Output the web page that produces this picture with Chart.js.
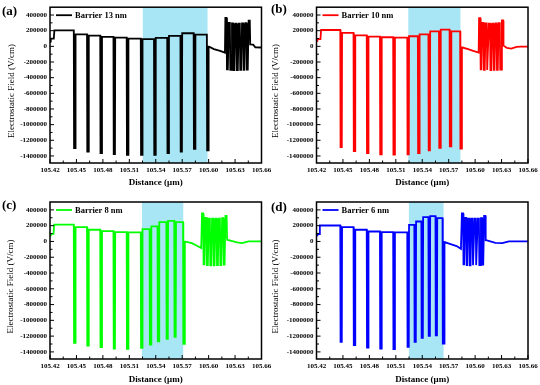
<!DOCTYPE html>
<html>
<head>
<meta charset="utf-8">
<script src="https://cdn.jsdelivr.net/npm/chart.js@4.4.1/dist/chart.umd.min.js"></script>
<style>
  body { margin: 0; background: #fff; }
  #fig { position: relative; width: 540px; height: 385px; overflow: hidden; background: #fff; }
  #fig canvas { position: absolute; }
  .tag { position: absolute; font: bold 13px "Liberation Serif", serif; line-height: 13px; }
</style>
</head>
<body>
<div id="fig">
  <canvas id="chartA" width="275" height="190" style="left:0;top:0"></canvas>
  <canvas id="chartB" width="270" height="190" style="left:270px;top:0"></canvas>
  <canvas id="chartC" width="275" height="195" style="left:0;top:190px"></canvas>
  <canvas id="chartD" width="270" height="195" style="left:270px;top:190px"></canvas>
  <div class="tag" style="left:2px;top:4px">(a)</div>
  <div class="tag" style="left:271px;top:2px">(b)</div>
  <div class="tag" style="left:2px;top:198px">(c)</div>
  <div class="tag" style="left:271px;top:200px">(d)</div>
</div>
<script>
// axis ticks and titles
const xTicks = [105.42, 105.45, 105.48, 105.51, 105.54, 105.57, 105.60, 105.63, 105.66];
const yTicks = [400000, 200000, 0, -200000, -400000, -600000, -800000, -1000000, -1200000, -1400000];
const xTitle = 'Distance (\u03bcm)';
const yTitle = 'Electrostatic Field (V/cm)';

// (a) Barrier 13 nm
const headA = [[105.420, 62000], [105.4207, 72000], [105.4210, 98000], [105.4243, 98000], [105.4250, 205000]];
const wellXA = [105.448, 105.463, 105.478, 105.493, 105.508, 105.524, 105.539, 105.554, 105.569, 105.584, 105.599];
const wellMinA = [-1300000, -1345000, -1365000, -1375000, -1385000, -1385000, -1385000, -1365000, -1345000, -1310000, -1330000];
const levelA = [205000, 154000, 137000, 120000, 112000, 99000, 91000, 108000, 133000, 167000, 150000];
const tailA = [[105.6005, -5000], [105.6060, -35000], [105.6130, -58000], [105.6185, -80000]];
const peakXA = [105.6190, 105.6228, 105.6265, 105.6303, 105.6341, 105.6379, 105.6416, 105.6454];
const peakA = [362000, 300000, 292000, 290000, 290000, 292000, 295000, 328000];
const troughA = [-295000, -300000, -302000, -302000, -300000, -300000, -298000];
const endA = [[105.6472, 25000], [105.6505, 22000], [105.6530, -12000], [105.6600, -15000]];
const shadeA = [105.525, 105.599];

// (b) Barrier 10 nm
const headB = [[105.420, 64000], [105.4207, 70000], [105.4210, 92000], [105.4245, 92000], [105.4252, 209000]];
const wellXB = [105.448, 105.463, 105.478, 105.493, 105.508, 105.524, 105.536, 105.548, 105.560, 105.572, 105.584];
const wellMinB = [-1286000, -1337000, -1362000, -1379000, -1383000, -1379000, -1362000, -1328000, -1298000, -1277000, -1307000];
const levelB = [209000, 171000, 141000, 125000, 116000, 112000, 129000, 154000, 192000, 213000, 192000];
const tailB = [[105.5856, -15000], [105.5920, -36000], [105.5978, -58000], [105.6040, -80000]];
const peakXB = [105.6045, 105.6082, 105.6119, 105.6156, 105.6193, 105.6230, 105.6267, 105.6304];
const peakB = [360000, 300000, 292000, 290000, 290000, 292000, 295000, 330000];
const troughB = [-295000, -300000, -302000, -302000, -300000, -300000, -298000];
const endB = [[105.6322, 10000], [105.6360, -20000], [105.6410, -28000], [105.6470, -8000], [105.6520, -3000], [105.6600, -3000]];
const shadeB = [105.524, 105.5836];

// (c) Barrier 8 nm
const headC = [[105.420, 78000], [105.4207, 84000], [105.4210, 95000], [105.4240, 95000], [105.4247, 212000]];
const wellXC = [105.448, 105.463, 105.478, 105.493, 105.508, 105.524, 105.534, 105.543, 105.553, 105.562, 105.572];
const wellMinC = [-1286000, -1319000, -1340000, -1357000, -1361000, -1349000, -1307000, -1265000, -1235000, -1210000, -1298000];
const levelC = [212000, 181000, 148000, 131000, 118000, 114000, 156000, 190000, 244000, 261000, 244000];
const tailC = [[105.5735, -2000], [105.5810, -21000], [105.5867, -55000], [105.5916, -84000]];
const peakXC = [105.5925, 105.5963, 105.6001, 105.6039, 105.6077, 105.6115, 105.6153, 105.6191];
const peakC = [355000, 300000, 290000, 288000, 288000, 290000, 295000, 325000];
const troughC = [-290000, -300000, -302000, -302000, -300000, -300000, -295000];
const endC = [[105.6210, 21000], [105.6226, 18000], [105.6322, -13000], [105.6378, -21000], [105.6453, 0], [105.6600, 0]];
const shadeC = [105.5242, 105.5715];

// (d) Barrier 6 nm
const headD = [[105.420, 72000], [105.4207, 78000], [105.4210, 92000], [105.4232, 92000], [105.4238, 202000]];
const wellXD = [105.448, 105.463, 105.478, 105.493, 105.508, 105.524, 105.532, 105.540, 105.548, 105.556, 105.564];
const wellMinD = [-1273000, -1315000, -1345000, -1357000, -1366000, -1336000, -1273000, -1222000, -1197000, -1189000, -1294000];
const levelD = [202000, 181000, 148000, 126000, 118000, 114000, 211000, 253000, 308000, 320000, 295000];
const tailD = [[105.5655, -8000], [105.5713, -30000], [105.5790, -59000], [105.5839, -93000]];
const peakXD = [105.5850, 105.5886, 105.5922, 105.5958, 105.5994, 105.6030, 105.6066, 105.6102];
const peakD = [355000, 300000, 290000, 288000, 288000, 290000, 295000, 325000];
const troughD = [-290000, -300000, -302000, -302000, -300000, -300000, -295000];
const endD = [[105.6120, 15000], [105.6134, 13000], [105.6230, -17000], [105.6307, -21000], [105.6384, 0], [105.6600, 0]];
const shadeD = [105.5246, 105.5644];

const xMin = 105.42, xMax = 105.66;
const yMin = -1490000, yMax = 500000;

// turns the read-off levels into one polyline
function buildTrace(head, wellX, wellMin, level, tail, peakX, peak, trough, end) {
   const pts = head.map(([x, y]) => ({ x, y }));
   wellX.forEach((x, i) => {
      const next = i + 1 < level.length ? level[i + 1] : tail[0][1];
      pts.push({ x: x - 0.0010, y: level[i] }, { x: x - 0.0007, y: wellMin[i] },
               { x: x + 0.0007, y: wellMin[i] }, { x: x + 0.0010, y: next });
   });
   tail.forEach(([x, y]) => pts.push({ x, y }));
   peakX.forEach((x, i) => {
      pts.push({ x: x, y: peak[i] }, { x: x + 0.0013, y: peak[i] });
      if (i < trough.length) {
         pts.push({ x: x + 0.0018, y: trough[i] }, { x: peakX[i + 1] - 0.0010, y: trough[i] });
      }
   });
   end.forEach(([x, y]) => pts.push({ x, y }));
   return pts;
}

const decor = {
   id: 'decor',
   afterDatasetsDraw(chart, args, o) {
      const { ctx, chartArea: a, scales: { x, y } } = chart;
      ctx.save();
      ctx.strokeStyle = '#000';
      ctx.lineWidth = 1;
      ctx.beginPath();
      xTicks.forEach((v, i) => {
         const px = x.getPixelForValue(v);
         ctx.moveTo(px, a.bottom);
         ctx.lineTo(px, a.bottom - 4);
         if (i + 1 < xTicks.length) {
            const mx = x.getPixelForValue((v + xTicks[i + 1]) / 2);
            ctx.moveTo(mx, a.bottom);
            ctx.lineTo(mx, a.bottom - 2.5);
         }
      });
      yTicks.forEach((v, i) => {
         const py = y.getPixelForValue(v);
         ctx.moveTo(a.left, py);
         ctx.lineTo(a.left + 4, py);
         if (i + 1 < yTicks.length) {
            const my = y.getPixelForValue((v + yTicks[i + 1]) / 2);
            ctx.moveTo(a.left, my);
            ctx.lineTo(a.left + 2.5, my);
         }
      });
      ctx.stroke();
      ctx.lineWidth = 1.5;
      ctx.strokeRect(a.left, a.top, a.right - a.left, a.bottom - a.top);

      // legend inside the plot
      const ds = chart.data.datasets[0];
      const ly = a.top + 8;
      ctx.strokeStyle = ds.borderColor;
      ctx.lineWidth = 1.8;
      ctx.beginPath();
      ctx.moveTo(a.left + 6, ly);
      ctx.lineTo(a.left + 22, ly);
      ctx.stroke();
      ctx.fillStyle = '#000';
      ctx.font = 'bold 8.5px "Liberation Serif"';
      ctx.textBaseline = 'middle';
      ctx.textAlign = 'left';
      ctx.fillText(ds.label, a.left + 25, ly + 0.5);

      // axis titles
      ctx.textAlign = 'center';
      ctx.font = '9px "Liberation Serif"';
      ctx.save();
      ctx.translate(o.yTitleX, (a.top + a.bottom) / 2 + 6);
      ctx.rotate(-Math.PI / 2);
      ctx.fillText(yTitle, 0, 0);
      ctx.restore();
      ctx.font = 'bold 9px "Liberation Serif"';
      ctx.fillText(xTitle, (a.left + a.right) / 2, o.xTitleY);
      ctx.restore();
   }
};

function makeChart(id, label, color, trace, shade, box) {
   const tickFont = { family: '"Liberation Serif"', size: 7, weight: 'bold' };
   new Chart(document.getElementById(id), {
      type: 'line',
      data: {
         datasets: [{
               label: label,
               data: trace,
               borderColor: color,
               borderWidth: 1.8,
               pointRadius: 0,
               fill: false,
               tension: 0
            },
            {
               label: 'shade',
               data: [{ x: shade[0], y: yMax }, { x: shade[1], y: yMax }],
               borderColor: 'transparent',
               borderWidth: 0,
               pointRadius: 0,
               backgroundColor: '#a8e6f5',
               fill: 'start'
            }
         ]
      },
      options: {
         responsive: false,
         animation: false,
         devicePixelRatio: 1,
         layout: { padding: { left: 0, top: box.top, right: box.right, bottom: 0 } },
         plugins: {
            legend: { display: false },
            tooltip: { enabled: false },
            decor: { yTitleX: box.yTitleX, xTitleY: box.xTitleY }
         },
         scales: {
            x: {
               type: 'linear',
               min: xMin,
               max: xMax,
               grid: { display: false, drawTicks: false },
               border: { display: false },
               afterBuildTicks: s => { s.ticks = xTicks.map(v => ({ value: v })); },
               afterFit: s => { s.height = box.xh; s.paddingLeft = 0; s.paddingRight = 0; },
               ticks: {
                  autoSkip: false,
                  maxRotation: 0,
                  padding: 3,
                  color: '#000',
                  font: tickFont,
                  callback: v => v.toFixed(2)
               }
            },
            y: {
               min: yMin,
               max: yMax,
               grid: { display: false, drawTicks: false },
               border: { display: false },
               afterBuildTicks: s => { s.ticks = yTicks.map(v => ({ value: v })); },
               afterFit: s => { s.width = box.yw; },
               ticks: {
                  autoSkip: false,
                  padding: 3,
                  color: '#000',
                  font: tickFont,
                  callback: v => String(v)
               }
            }
         }
      },
      plugins: [decor]
   });
}

makeChart('chartA', 'Barrier 13 nm', '#000000',
   buildTrace(headA, wellXA, wellMinA, levelA, tailA, peakXA, peakA, troughA, endA), shadeA,
   { top: 6, right: 13.5, yw: 50, xh: 27, yTitleX: 11.5, xTitleY: 183 });
makeChart('chartB', 'Barrier 10 nm', '#ff0000',
   buildTrace(headB, wellXB, wellMinB, levelB, tailB, peakXB, peakB, troughB, endB), shadeB,
   { top: 6, right: 12, yw: 46.5, xh: 27, yTitleX: 5.5, xTitleY: 183 });
makeChart('chartC', 'Barrier 8 nm', '#00ff00',
   buildTrace(headC, wellXC, wellMinC, levelC, tailC, peakXC, peakC, troughC, endC), shadeC,
   { top: 12, right: 13.5, yw: 50, xh: 26, yTitleX: 10.5, xTitleY: 190 });
makeChart('chartD', 'Barrier 6 nm', '#0000ff',
   buildTrace(headD, wellXD, wellMinD, levelD, tailD, peakXD, peakD, troughD, endD), shadeD,
   { top: 12, right: 12, yw: 46.5, xh: 26, yTitleX: 5.5, xTitleY: 190 });
</script>
</body>
</html>
